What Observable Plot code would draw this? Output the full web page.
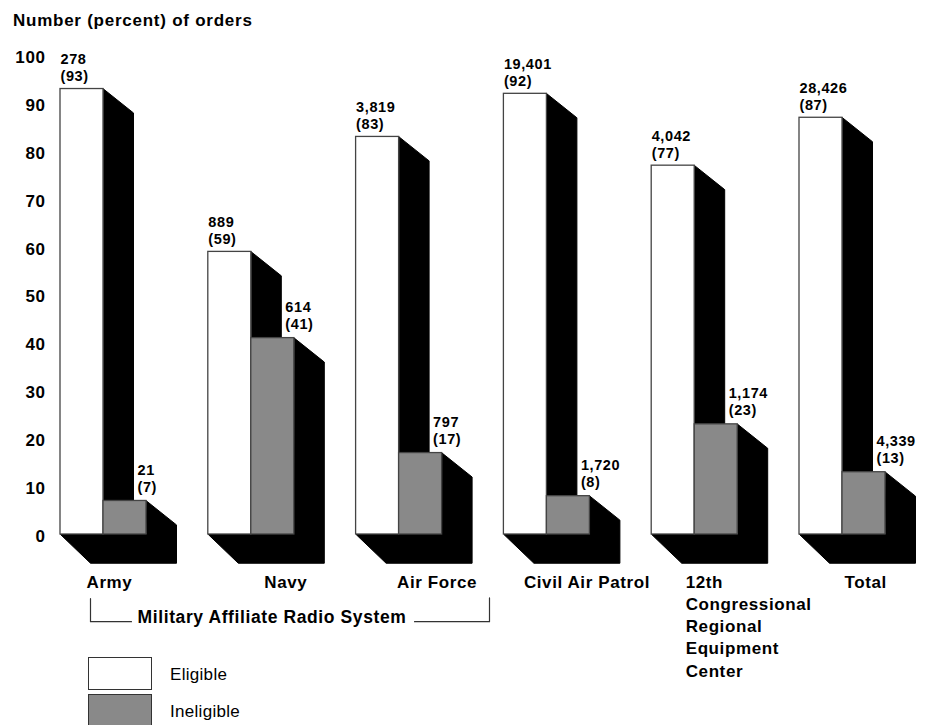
<!DOCTYPE html>
<html>
<head>
<meta charset="utf-8">
<script src="https://cdn.jsdelivr.net/npm/d3@7"></script>
<script src="https://cdn.jsdelivr.net/npm/@observablehq/plot@0.6"></script>
<style>
  html, body { margin: 0; padding: 0; background: #fff; }
  body { font-family: "Liberation Sans", Arial, Helvetica, sans-serif; }
  #wrap { position: relative; width: 931px; height: 725px; overflow: hidden; }
  #title { position: absolute; left: 13px; top: 12px; font-size: 17px; line-height: 17px; letter-spacing: 0.75px; font-weight: bold; color: #000; }
  #chart { position: absolute; left: 0; top: 0; }
  #chart svg { letter-spacing: 0.6px; }
  .lg-box { position: absolute; left: 88px; width: 62px; height: 31px; border: 1px solid #333; }
  .lg-lab { position: absolute; left: 170px; font-size: 17px; line-height: 17px; letter-spacing: 0.3px; color: #000; }
</style>
</head>
<body>
<div id="wrap">
  <div id="chart"></div>
  <div id="title">Number (percent) of orders</div>
  <div class="lg-box" style="top:657px;background:#fff;"></div>
  <div class="lg-lab" style="top:666px;">Eligible</div>
  <div class="lg-box" style="top:694px;background:#898989;"></div>
  <div class="lg-lab" style="top:703px;">Ineligible</div>
</div>
<script>
// ---- data ----
const categories = ["Army", "Navy", "Air Force", "Civil Air Patrol", "12th\nCongressional\nRegional\nEquipment\nCenter", "Total"];
const eligibleCount = [278, 889, 3819, 19401, 4042, 28426];
const eligiblePct = [93, 59, 83, 92, 77, 87];
const ineligibleCount = [21, 614, 797, 1720, 1174, 4339];
const ineligiblePct = [7, 41, 17, 8, 23, 13];
const groupLabel = "Military Affiliate Radio System";
const yTicks = [0, 10, 20, 30, 40, 50, 60, 70, 80, 90, 100];

// ---- layout (pixels / group units) ----
const unit = 147.8;              // px per group on x
const W = 43 / unit;             // front bar width
const D = 30 / unit;             // depth offset along x
const S = 5;                     // side slope drop (y units)
const F = 6;                     // floor drop (y units)
const labelNudge = [26, 56, 41, 20, 34, 45]; // px from group left

const fmt = d3.format(",");
const rows = categories.map((c, i) => ({
  i, c, e: eligiblePct[i], g: ineligiblePct[i], ec: eligibleCount[i], gc: ineligibleCount[i]
}));

// polygons for shaded sides and floor
const polys = [];
rows.forEach(r => {
  const i = r.i;
  [[i + W, r.e], [i + W + D, r.e - S], [i + W + D, 0], [i + W, 0]]
    .forEach(([x, y]) => polys.push({id: "w" + i, x, y}));
  [[i + 2 * W, r.g], [i + 2 * W + D, r.g - S], [i + 2 * W + D, -F], [i + D, -F], [i, 0], [i + 2 * W, 0]]
    .forEach(([x, y]) => polys.push({id: "g" + i, x, y}));
});

const bracketY = -18.2;
const bracket = [
  {id: "L", x: D, y: -13.4}, {id: "L", x: D, y: bracketY}, {id: "L", x: 71 / unit, y: bracketY},
  {id: "R", x: 354 / unit, y: bracketY}, {id: "R", x: 429 / unit, y: bracketY}, {id: "R", x: 429 / unit, y: -13.2}
];

const chart = Plot.plot({
  width: 931,
  height: 725,
  marginLeft: 60,
  marginRight: 931 - 60 - 5.8 * unit,
  marginTop: 55,
  marginBottom: 191,
  style: {fontFamily: "'Liberation Sans', Arial, Helvetica, sans-serif", background: "#fff", color: "#000"},
  x: {domain: [0, 5.8], axis: null},
  y: {domain: [0, 100]},
  marks: [
    Plot.axisY({ticks: yTicks, tickSize: 0, tickPadding: 15, fontSize: 17, fontWeight: "bold", label: null, dy: 2}),
    Plot.line(polys, {x: "x", y: "y", z: "id", curve: "linear-closed", fill: "black", stroke: "black", strokeWidth: 1}),
    Plot.rect(rows, {x1: d => d.i, x2: d => d.i + W, y1: 0, y2: "e", fill: "white", stroke: "#444", strokeWidth: 1.3}),
    Plot.rect(rows, {x1: d => d.i + W, x2: d => d.i + 2 * W, y1: 0, y2: "g", fill: "#898989", stroke: "#444", strokeWidth: 1.3}),
    Plot.text(rows, {x: d => d.i, y: "e", text: d => `${fmt(d.ec)}\n(${d.e})`, textAnchor: "start", lineAnchor: "bottom",
      dy: -8, fontSize: 14.5, fontWeight: "bold", lineHeight: 1.17}),
    Plot.text(rows, {x: d => d.i + W, y: "g", text: d => `${fmt(d.gc)}\n(${d.g})`, textAnchor: "start", lineAnchor: "bottom",
      dx: 34, dy: -9, fontSize: 14.5, fontWeight: "bold", lineHeight: 1.17}),
    Plot.text(rows, {x: d => d.i + labelNudge[d.i] / unit, frameAnchor: "bottom", text: "c", textAnchor: "start",
      lineAnchor: "top", dy: 38, fontSize: 17, fontWeight: "bold", lineHeight: 1.3}),
    Plot.line(bracket, {x: "x", y: "y", z: "id", stroke: "#333", strokeWidth: 1.2}),
    Plot.text([groupLabel], {x: 211.5 / unit, y: -17.3, text: d => d, fontSize: 17.5, fontWeight: "bold"})
  ]
});
document.getElementById("chart").appendChild(chart);
</script>
</body>
</html>
